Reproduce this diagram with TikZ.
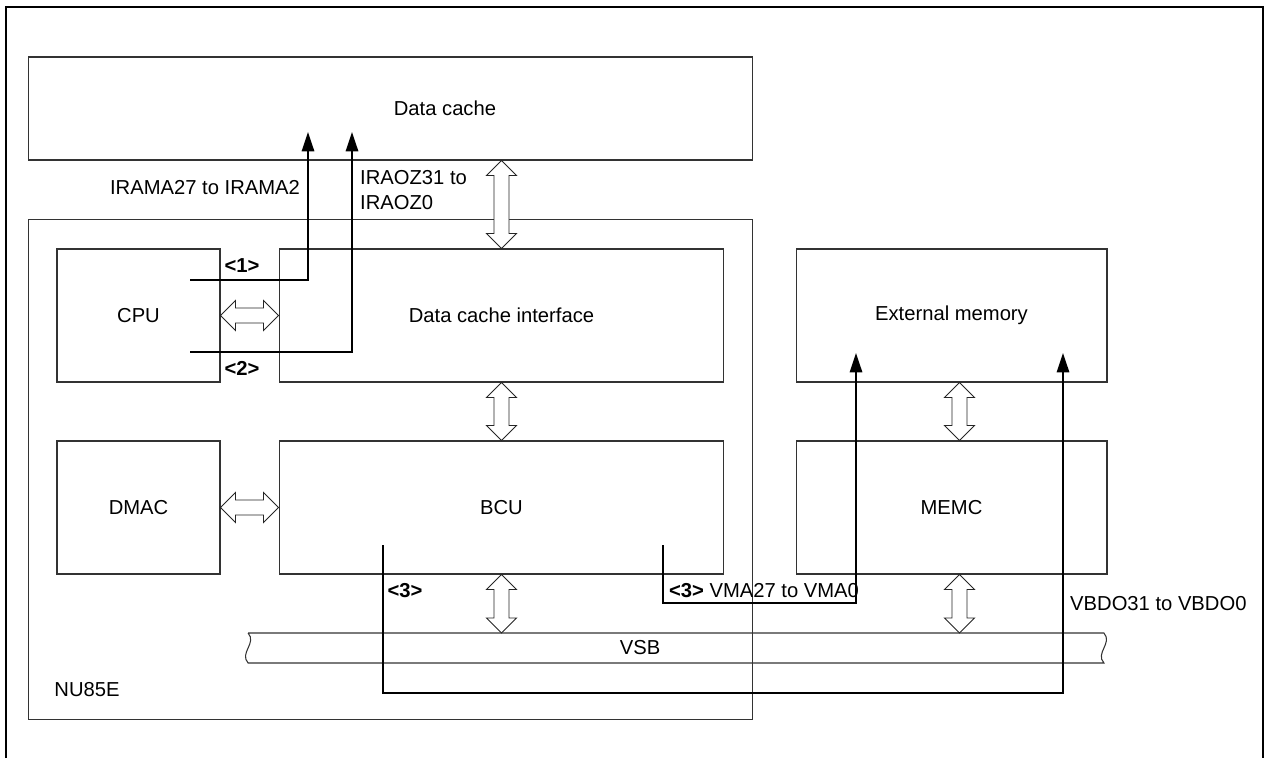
\documentclass[tikz,border=0pt]{standalone}
\usepackage{fontspec}
\setmainfont{Liberation Sans}
\usetikzlibrary{arrows.meta, calc, positioning}

\newcommand{\vbus}[2]{%
  \draw[bus] (#1) -- ($(#1)+(15,15)$) -- ($(#1)+(7.5,15)$) -- ($(#2)+(7.5,-15)$)
    -- ($(#2)+(15,-15)$) -- (#2) -- ($(#2)+(-15,-15)$) -- ($(#2)+(-7.5,-15)$)
    -- ($(#1)+(-7.5,15)$) -- ($(#1)+(-15,15)$) -- cycle;}
\newcommand{\hbus}[2]{%
  \draw[bus] (#1) -- ($(#1)+(15,-15)$) -- ($(#1)+(15,-7.5)$) -- ($(#2)+(-15,-7.5)$)
    -- ($(#2)+(-15,-15)$) -- (#2) -- ($(#2)+(-15,15)$) -- ($(#2)+(-15,7.5)$)
    -- ($(#1)+(15,7.5)$) -- ($(#1)+(15,15)$) -- cycle;}

\begin{document}
\begin{tikzpicture}[x=0.02cm, y=-0.02cm, font=\fontsize{11.5}{13.8}\selectfont,
    blk/.style={draw=black!80, line width=0.6pt, inner sep=0pt, minimum height=2.66cm},
    bus/.style={draw=black!85, line width=0.5pt, fill=white},
    sig/.style={line width=1.2pt, -{Triangle[length=11pt,width=7pt]}}]
    \useasboundingbox (0,0) rectangle (1268,758);

    \draw[line width=1.3pt] (6,758) -- (6,7) -- (1263,7) -- (1263,758);

    \node[blk, minimum width=14.5cm, minimum height=2.06cm,
          label={[xshift=1.09cm]center:Data cache}] (dcache) at (390.5,108.5) {};
    \node[blk, minimum width=14.5cm, minimum height=10.02cm] (nu) at (390.5,469.5) {};
    \node (lnu) at (87,690) {NU85E};

    \node[blk, minimum width=3.26cm] (cpu) at (138.5,315.5) {CPU};
    \node[blk, minimum width=8.9cm] (dci) at (501.5,315.5) {Data cache interface};
    \node[blk, minimum width=3.26cm] (dmac) at (138.5,507.5) {DMAC};
    \node[blk, minimum width=8.9cm] (bcu) at (501.5,507.5) {BCU};
    \node[blk, minimum width=6.22cm] (extmem) at (951.5,315.5) {External memory};
    \node[blk, minimum width=6.22cm] (memc) at (951.5,507.5) {MEMC};

    \node[inner sep=0pt, outer sep=0pt, minimum width=17.12cm, minimum height=0.6cm,
          label={[xshift=-0.72cm]center:VSB}] (vsb) at (676,648) {};
    \draw[draw=black!80, line width=0.6pt] (vsb.north west) -- (vsb.north east)
        .. controls +(9,10) and +(-9,-10) .. (vsb.south east) -- (vsb.south west)
        .. controls +(-9,-10) and +(9,10) .. (vsb.north west);

    \coordinate (b1) at (dcache.south -| dci.north);
    \coordinate (b3) at (vsb.north -| bcu.south);
    \coordinate (b4t) at ($(extmem.south)+(8,0)$);
    \coordinate (b4b) at ($(memc.north)+(8,0)$);
    \coordinate (b5t) at ($(memc.south)+(8,0)$);
    \coordinate (b5b) at (vsb.north -| b5t);

    \vbus{b1}{dci.north}
    \vbus{dci.south}{bcu.north}
    \vbus{bcu.south}{b3}
    \vbus{b4t}{b4b}
    \vbus{b5t}{b5b}
    \hbus{cpu.east}{dci.west}
    \hbus{dmac.east}{bcu.west}

    \coordinate (s1) at (190,280);
    \coordinate (t1) at (308,132);
    \coordinate (s2) at (190,352);
    \coordinate (t2) at (352,132);
    \coordinate (s3) at (663,545);
    \coordinate (t3) at (856,353);
    \coordinate (s4) at (383,545);
    \coordinate (t4) at (1063,353);

    \draw[sig] (s1) -| (t1);
    \draw[sig] (s2) -| (t2);
    \draw[sig] (s3) -- ++(0,58) -| (t3);
    \draw[sig] (s4) -- ++(0,148) -| (t4);

    \node[font=\fontsize{11.5}{13.8}\selectfont\bfseries] (l1) at (242,266) {<1>};
    \node[font=\fontsize{11.5}{13.8}\selectfont\bfseries] (l2) at (242,368) {<2>};
    \node[font=\fontsize{11.5}{13.8}\selectfont\bfseries] (l3) at (405,591) {<3>};
    \node[anchor=west, inner sep=1pt] (lvma) at (667,591) {\textbf{<3>} VMA27 to VMA0};
    \node[anchor=east, inner sep=1pt] (lirama) at (302,188) {IRAMA27 to IRAMA2};
    \node[anchor=west, align=left] (liraoz) at (354,190) {IRAOZ31 to\\IRAOZ0};
    \node[anchor=west] (lvbdo) at (1064,604) {VBDO31 to VBDO0};
\end{tikzpicture}
\end{document}
